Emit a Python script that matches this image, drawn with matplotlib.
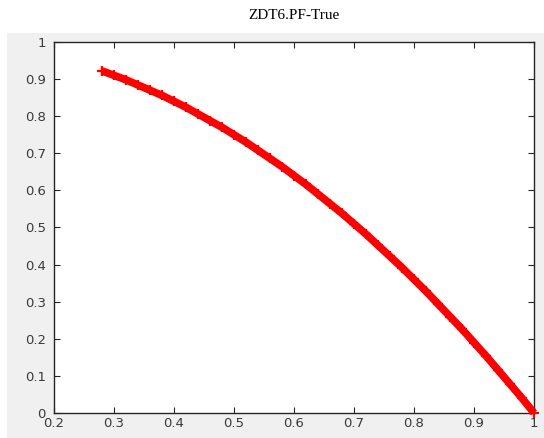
import numpy as np
import matplotlib.pyplot as plt
from matplotlib.patches import Rectangle

# Pareto front samples (f1, f2)
f1 = [0.28, 0.30, 0.32, 0.34, 0.36, 0.38, 0.40, 0.42, 0.44, 0.46, 0.48, 0.50,
      0.52, 0.54, 0.56, 0.58, 0.60, 0.62, 0.64, 0.66, 0.68, 0.70, 0.72, 0.74,
      0.76, 0.78, 0.80, 0.82, 0.84, 0.86, 0.88, 0.90, 0.92, 0.94, 0.96, 0.98, 1.00]
f2 = [0.922, 0.910, 0.898, 0.884, 0.870, 0.856, 0.840, 0.824, 0.806, 0.788, 0.770, 0.750,
      0.730, 0.708, 0.686, 0.664, 0.640, 0.616, 0.590, 0.564, 0.538, 0.510, 0.482, 0.452,
      0.422, 0.392, 0.360, 0.328, 0.294, 0.260, 0.226, 0.190, 0.154, 0.116, 0.078, 0.040, 0.000]

xticks = [0.2, 0.3, 0.4, 0.5, 0.6, 0.7, 0.8, 0.9, 1]
yticks = [0, 0.1, 0.2, 0.3, 0.4, 0.5, 0.6, 0.7, 0.8, 0.9, 1]

fig = plt.figure(figsize=(5.44, 4.38), dpi=100)
fig.patch.set_facecolor('white')
# grey panel behind the axes
fig.patches.append(Rectangle((0.0129, 0), 0.99, 0.9247, transform=fig.transFigure,
                             facecolor='#f0f0f0', edgecolor='none', zorder=-10))

ax = fig.add_axes([0.0993, 0.0571, 0.8823, 0.847])
ax.set_zorder(1)
ax.set_facecolor('white')
ax.plot(f1, f2, color='red', lw=5.5, solid_capstyle='butt', clip_on=False, zorder=3)
ax.plot(f1, f2, '+', color='red', ms=7, mew=1.6, clip_on=False, zorder=3)

ax.set_xlim(0.2, 1)
ax.set_ylim(0, 1)
ax.set_xticks(xticks)
ax.set_yticks(yticks)
ax.set_xticklabels(['0.2', '0.3', '0.4', '0.5', '0.6', '0.7', '0.8', '0.9', '1'])
ax.set_yticklabels(['0', '0.1', '0.2', '0.3', '0.4', '0.5', '0.6', '0.7', '0.8', '0.9', '1'])
ax.tick_params(direction='in', length=4.5, width=0.8, color='#262626',
               top=True, right=True, labelsize=9.5, labelcolor='#3a3a3a')
ax.tick_params(axis='x', pad=3)
ax.tick_params(axis='y', pad=6)
for s in ax.spines.values():
    s.set_color('#262626')
    s.set_linewidth(1.0)

fig.text(0.54, 0.965, 'ZDT6.PF-True', ha='center', va='center',
         fontsize=11, family='Liberation Serif')

fig.savefig('out.png', dpi=100)
